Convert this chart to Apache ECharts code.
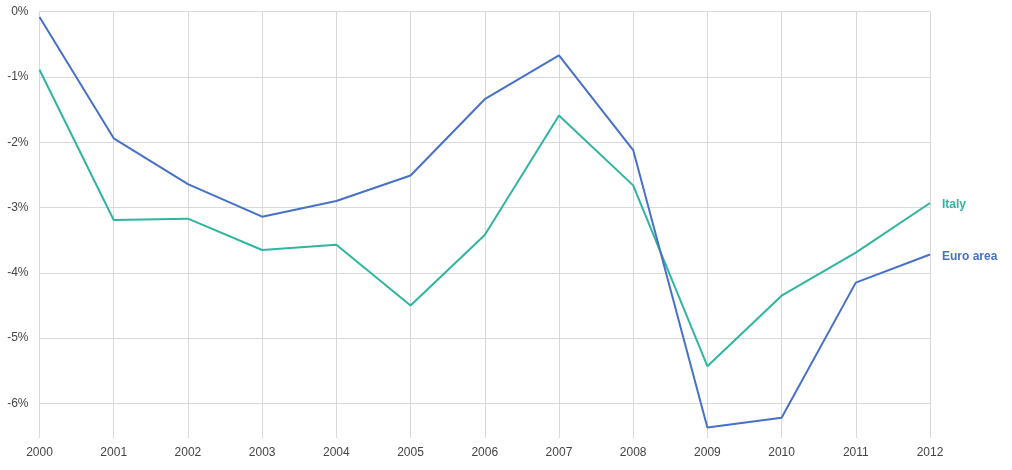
<!DOCTYPE html>
<html>
<head>
<meta charset="utf-8">
<script src="https://cdn.jsdelivr.net/npm/echarts@6/dist/echarts.min.js"></script>
<style>
html,body{margin:0;padding:0;background:#fff;}
#chart{width:1012px;height:470px;}
</style>
</head>
<body>
<div id="chart"></div>
<script>
const years = ['2000','2001','2002','2003','2004','2005','2006','2007','2008','2009','2010','2011','2012'];
const italy = [-0.89,-3.19,-3.17,-3.65,-3.57,-4.50,-3.42,-1.59,-2.66,-5.43,-4.35,-3.69,-2.93];
const euroArea = [-0.08,-1.94,-2.64,-3.14,-2.90,-2.51,-1.34,-0.67,-2.12,-6.37,-6.22,-4.15,-3.72];
const yMin = -6.53;
const yMax = 0;

const chart = echarts.init(document.getElementById('chart'), null, {renderer:'canvas'});
const gridColor = '#d9d9d9';
const font = 'Liberation Sans, Arial, sans-serif';
chart.setOption({
  animation: false,
  backgroundColor: '#ffffff',
  grid: {left: 39.5, right: 82, top: 11.7, bottom: 32, containLabel: false},
  xAxis: {
    type: 'category',
    data: years,
    boundaryGap: false,
    axisLine: {show: false},
    axisTick: {show: false},
    axisLabel: {color: '#444', fontSize: 12, fontFamily: font, margin: 9},
    splitLine: {show: true, lineStyle: {color: gridColor, width: 1}}
  },
  yAxis: {
    type: 'value',
    min: yMin,
    max: yMax,
    splitNumber: 7,
    axisLine: {show: false},
    axisTick: {show: false},
    axisLabel: {
      color: '#444', fontSize: 12, fontFamily: font, margin: 11,
      padding: [3, 0, 0, 0],
      showMinLabel: false,
      formatter: function (v) { return Math.abs(v - Math.round(v)) > 1e-6 ? '' : Math.round(v) + '%'; }
    },
    splitLine: {show: true, lineStyle: {color: ['rgba(0,0,0,0)', gridColor, gridColor, gridColor, gridColor, gridColor, gridColor, gridColor], width: 1}}
  },
  series: [
    {
      name: 'Italy', type: 'line', data: italy, symbol: 'none',
      lineStyle: {color: '#2fb5a0', width: 2}, itemStyle: {color: '#2fb5a0'},
      endLabel: {show: true, formatter: '{a}', color: '#2fb5a0', fontWeight: 'bold', fontSize: 12, distance: 12, offset: [0, 2], fontFamily: font}
    },
    {
      name: 'Euro area', type: 'line', data: euroArea, symbol: 'none',
      lineStyle: {color: '#4671c6', width: 2}, itemStyle: {color: '#4671c6'},
      endLabel: {show: true, formatter: '{a}', color: '#4671c6', fontWeight: 'bold', fontSize: 12, distance: 12, offset: [0, 2], fontFamily: font}
    }
  ]
});
</script>
</body>
</html>
